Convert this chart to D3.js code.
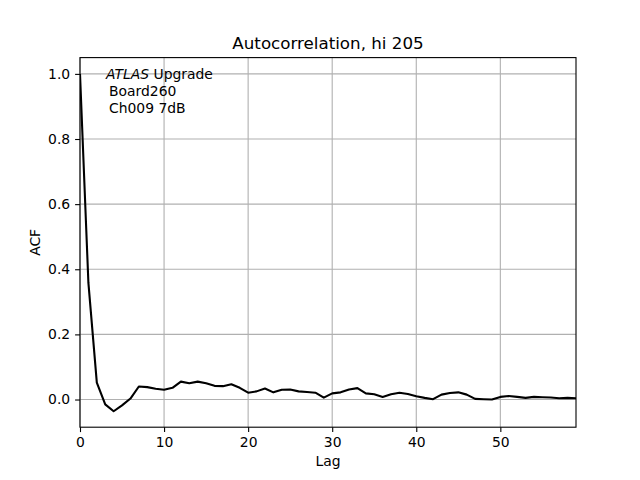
<!DOCTYPE html>
<html lang="en">
  <head>
    <meta http-equiv="Content-Type" content="text/html; charset=utf-8"/>
    <style>
body { margin: 0; background: #fff; }
text {
  font-family: "DejaVu Sans", sans-serif;
  fill: #000;
}
.tick text { font-size: 13.9px; }
.grid line { stroke: #b0b0b0; stroke-width: 1.1; }
    </style>
  </head>
  <body>
    <svg width="640" height="480"></svg>
    <script src="https://d3js.org/d3.v7.min.js"></script>
    <script>

// lag and autocorrelation values
var lags = d3.range(0, 60);
var acf = [1.0, 0.358, 0.052, -0.015, -0.036, -0.018, 0.003, 0.04, 0.038, 0.033,
           0.03, 0.036, 0.055, 0.05, 0.055, 0.05, 0.042, 0.041, 0.047, 0.036,
           0.021, 0.025, 0.034, 0.022, 0.03, 0.031, 0.025, 0.023, 0.021, 0.006,
           0.019, 0.022, 0.031, 0.035, 0.019, 0.016, 0.008, 0.016, 0.021, 0.017,
           0.01, 0.005, 0.001, 0.015, 0.02, 0.022, 0.015, 0.002, 0.001, 0.0,
           0.008, 0.011, 0.008, 0.005, 0.008, 0.007, 0.006, 0.004, 0.005, 0.004];
var xTicks = [0, 10, 20, 30, 40, 50];
var yTicks = [0.0, 0.2, 0.4, 0.6, 0.8, 1.0];
var noteLines = ["Board260", "Ch009 7dB"];

var plotL = 80, plotR = 576, plotT = 57.6, plotB = 427.2;

var x = d3.scaleLinear().domain([0, 59]).range([plotL, plotR]);
var y = d3.scaleLinear().domain([-0.085, 1.05]).range([plotB, plotT]);

var svg = d3.select('svg');

// grid
var grid = svg.append('g').attr('class', 'grid');
grid.selectAll('.gx').data(xTicks).enter().append('line')
  .attr('class', 'gx')
  .attr('x1', function(d) { return x(d); })
  .attr('x2', function(d) { return x(d); })
  .attr('y1', plotT).attr('y2', plotB);
grid.selectAll('.gy').data(yTicks).enter().append('line')
  .attr('class', 'gy')
  .attr('y1', function(d) { return y(d); })
  .attr('y2', function(d) { return y(d); })
  .attr('x1', plotL).attr('x2', plotR);

// line
var line = d3.line()
  .x(function(d, i) { return x(lags[i]); })
  .y(function(d) { return y(d); });

svg.append('defs').append('clipPath').attr('id', 'clip')
  .append('rect').attr('x', plotL).attr('y', plotT)
  .attr('width', plotR - plotL).attr('height', plotB - plotT);

svg.append('path')
  .datum(acf)
  .attr('clip-path', 'url(#clip)')
  .attr('d', line)
  .attr('fill', 'none')
  .attr('stroke', '#000')
  .attr('stroke-width', 2.1)
  .attr('stroke-linejoin', 'round');

// axes
var xAxis = d3.axisBottom(x).tickValues(xTicks).tickSize(4.9).tickPadding(4.9)
  .tickFormat(d3.format('d'));
var yAxis = d3.axisLeft(y).tickValues(yTicks).tickSize(4.9).tickPadding(4.9)
  .tickFormat(d3.format('.1f'));

var gx = svg.append('g').attr('transform', 'translate(0,' + plotB + ')').call(xAxis);
var gy = svg.append('g').attr('transform', 'translate(' + plotL + ',0)').call(yAxis);
[gx, gy].forEach(function(g) {
  g.select('.domain').remove();
  g.attr('font-family', null).attr('font-size', null);
  g.selectAll('.tick line').attr('stroke', '#000').attr('stroke-width', 1.1);
  g.selectAll('.tick text').attr('fill', '#000');
});

svg.append('rect')
  .attr('x', plotL).attr('y', plotT)
  .attr('width', plotR - plotL).attr('height', plotB - plotT)
  .attr('fill', 'none').attr('stroke', '#000').attr('stroke-width', 1.1);

// title and labels
svg.append('text')
  .attr('x', (plotL + plotR) / 2).attr('y', 49)
  .attr('text-anchor', 'middle').style('font-size', '16.7px')
  .text('Autocorrelation, hi 205');

svg.append('text')
  .attr('x', (plotL + plotR) / 2).attr('y', 466)
  .attr('text-anchor', 'middle').style('font-size', '13.9px')
  .text('Lag');

svg.append('text')
  .attr('transform', 'translate(40,' + ((plotT + plotB) / 2) + ') rotate(-90)')
  .attr('text-anchor', 'middle').style('font-size', '13.9px')
  .text('ACF');

// annotation
var note = svg.append('text').attr('x', 106).attr('y', 79).style('font-size', '13.9px');
note.append('tspan').style('font-style', 'italic').text('ATLAS');
note.append('tspan').text(' Upgrade');
noteLines.forEach(function(t, i) {
  svg.append('text')
    .attr('x', 109).attr('y', 79 + 17 * (i + 1))
    .style('font-size', '13.9px')
    .text(t);
});

    </script>
  </body>
</html>
